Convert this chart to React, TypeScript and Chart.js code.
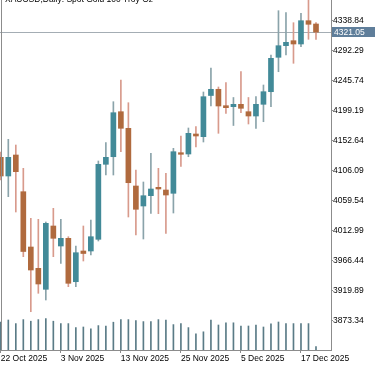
import React, { useEffect, useRef } from "react";
import { Chart, registerables } from "chart.js";
Chart.register(...registerables);

const title = "XAUUSD,Daily: Spot Gold 100 Troy Oz";

const dates = [
  "22 Oct 2025", "23 Oct 2025", "24 Oct 2025", "27 Oct 2025", "28 Oct 2025", "29 Oct 2025", "30 Oct 2025", "31 Oct 2025",
  "3 Nov 2025", "4 Nov 2025", "5 Nov 2025", "6 Nov 2025", "7 Nov 2025", "10 Nov 2025", "11 Nov 2025", "12 Nov 2025",
  "13 Nov 2025", "14 Nov 2025", "17 Nov 2025", "18 Nov 2025", "19 Nov 2025", "20 Nov 2025", "21 Nov 2025", "24 Nov 2025",
  "25 Nov 2025", "26 Nov 2025", "27 Nov 2025", "28 Nov 2025", "1 Dec 2025", "2 Dec 2025", "3 Dec 2025", "4 Dec 2025",
  "5 Dec 2025", "8 Dec 2025", "9 Dec 2025", "10 Dec 2025", "11 Dec 2025", "12 Dec 2025", "15 Dec 2025", "16 Dec 2025",
  "17 Dec 2025", "18 Dec 2025", "19 Dec 2025",
];

const opens = [
  4126.83, 4097.82, 4130.4, 4073.45, 3987.65, 3954.6, 3922.01, 4020.23, 3989.2, 4001.15, 3933.8,
  3981.44, 3981.44, 3999.59, 4115.97, 4127.76, 4197.59, 4171.83, 4082.3, 4051.27, 4067.25, 4080.28,
  4076.09, 4070.97, 4133.97, 4131.95, 4162.99, 4158.8, 4222.73, 4232.35, 4206.9, 4205.35, 4209.07,
  4197.59, 4190.91, 4209.07, 4228.62, 4282.0, 4300.0, 4307.76, 4302.64, 4338.79, 4333.67,
];
const closes = [
  4097.82, 4126.83, 4104.49, 3980.67, 3951.96, 3930.24, 4024.42, 4001.15, 4001.15, 3931.32, 3978.8,
  3977.56, 4003.63, 4115.97, 4126.83, 4196.04, 4171.83, 4087.42, 4046.15, 4067.25, 4077.64, 4077.64,
  4068.33, 4135.52, 4131.49, 4164.07, 4159.88, 4220.86, 4232.35, 4206.43, 4203.8, 4209.07, 4202.86,
  4190.91, 4209.07, 4228.62, 4280.45, 4300.0, 4305.27, 4302.64, 4338.79, 4333.2, 4321.05,
];
const highs = [
  4135.06, 4154.76, 4145.91, 4109.76, 4032.18, 4030.63, 4026.44, 4047.7, 4030.63, 4003.63, 3989.2,
  4020.23, 4029.54, 4121.09, 4149.49, 4213.11, 4246.78, 4211.55, 4107.13, 4088.51, 4133.04, 4109.76,
  4102.0, 4140.8, 4159.88, 4172.3, 4174.31, 4228.16, 4265.4, 4235.91, 4242.59, 4219.62, 4259.65,
  4219.62, 4221.17, 4239.02, 4285.57, 4354.31, 4351.2, 4335.69, 4350.27, 4375.56, 4335.69,
];
const lows = [
  4091.61, 4065.7, 4041.96, 3972.6, 3887.25, 3915.8, 3905.41, 3972.6, 3962.35, 3926.05, 3926.05,
  3965.92, 3975.23, 3996.96, 4099.37, 4099.37, 4135.52, 4034.2, 4006.27, 4000.06, 4039.94, 4039.32,
  4008.9, 4040.4, 4112.56, 4127.76, 4142.81, 4150.57, 4206.43, 4164.07, 4195.11, 4176.18, 4196.04,
  4178.5, 4171.83, 4182.07, 4205.35, 4259.65, 4285.57, 4272.69, 4298.45, 4309.93, 4309.93,
];
const volumes = [
  140000, 150000, 132000, 152000, 144000, 152000, 157000, 144000, 132000, 132000, 112000,
  115000, 106000, 122000, 119000, 139000, 152000, 152000, 147000, 142000, 142000, 152000,
  149000, 127000, 132000, 112000, 81000, 91000, 150000, 125000, 136000, 136000, 120000,
  120000, 124000, 115000, 131000, 140000, 132000, 132000, 132000, 132000, 17000,
];

const priceTicks = [4338.84, 4292.29, 4245.74, 4199.19, 4152.64, 4106.09, 4059.54, 4012.99, 3966.44, 3919.89, 3873.34];
const dateTickIdx = [0, 8, 16, 24, 32, 40];
const lastPrice = 4321.05;

const FONT = "'Liberation Sans', Arial, sans-serif";
const BULL = "#428a98";
const BEAR = "#b06a3e";
const BULL_WICK = "#8aa3aa";
const BEAR_WICK = "#d89a8c";
const VOL = "#5a7b86";
const AXIS = "#8c8c8c";

export default function App() {
  const ref = useRef<HTMLCanvasElement>(null);
  useEffect(() => {
    const canvas = ref.current;
    if (!canvas) return;
    const idx = dates.map((_, i) => i);
    const bull = idx.map((i) => closes[i] >= opens[i]);

    const decor = {
      id: "decor",
      beforeDatasetsDraw(chart: any) {
        const c = chart.ctx;
        const area = chart.chartArea;
        const y = Math.round(chart.scales.y.getPixelForValue(lastPrice)) + 0.5;
        c.save();
        c.strokeStyle = "#a4adb4";
        c.lineWidth = 1;
        c.beginPath();
        c.moveTo(0, y);
        c.lineTo(area.right, y);
        c.stroke();
        c.restore();
      },
      afterDraw(chart: any) {
        const c = chart.ctx;
        const area = chart.chartArea;
        const y = chart.scales.y.getPixelForValue(lastPrice);
        c.save();
        // left border
        c.strokeStyle = AXIS;
        c.lineWidth = 1;
        c.beginPath();
        c.moveTo(1.5, 0);
        c.lineTo(1.5, area.bottom);
        c.stroke();
        // price label
        c.fillStyle = "#5f7e9a";
        c.fillRect(area.right + 1, Math.round(y) - 5, 44, 10);
        c.fillStyle = "#ffffff";
        c.font = `8.5px ${FONT}`;
        c.textBaseline = "middle";
        c.textAlign = "left";
        c.fillText(lastPrice.toFixed(2), area.right + 3, Math.round(y) + 0.5);
        // title (cut off at top)
        c.fillStyle = "#000000";
        c.textBaseline = "alphabetic";
        c.fillText(title, 5, 2);
        c.restore();
      },
    };

    const chart = new Chart(canvas, {
      type: "bar",
      data: {
        datasets: [
          {
            label: "Body",
            data: idx.map((i) => ({ x: i, y: [opens[i], closes[i]] })) as any,
            backgroundColor: idx.map((i) => (bull[i] ? BULL : BEAR)),
            barThickness: 5,
            grouped: false,
            order: 1,
            yAxisID: "y",
          } as any,
          {
            label: "Wick",
            data: idx.map((i) => ({ x: i, y: [lows[i], highs[i]] })) as any,
            backgroundColor: idx.map((i) => (bull[i] ? BULL_WICK : BEAR_WICK)),
            barThickness: 1,
            grouped: false,
            order: 2,
            yAxisID: "y",
          } as any,
          {
            label: "Volume",
            data: idx.map((i) => ({ x: i, y: volumes[i] })) as any,
            backgroundColor: VOL,
            barThickness: 1,
            grouped: false,
            order: 3,
            yAxisID: "yv",
          } as any,
        ],
      },
      options: {
        animation: false,
        responsive: false,
        events: [],
        layout: { padding: 0 },
        plugins: {
          legend: { display: false },
          tooltip: { enabled: false },
          title: { display: false },
        },
        scales: {
          x: {
            type: "linear",
            position: "bottom",
            min: -0.107,
            max: 44.0,
            offset: false,
            afterBuildTicks: (s: any) => {
              s.ticks = dateTickIdx.map((v) => ({ value: v }));
            },
            afterFit: (s: any) => {
              s.height = 16;
              s.paddingLeft = 0;
              s.paddingRight = 0;
            },
            ticks: {
              callback: (v: any) => dates[Number(v)],
              align: "start",
              autoSkip: false,
              maxRotation: 0,
              minRotation: 0,
              padding: 1,
              color: "#000000",
              font: { family: FONT, size: 8.5 },
            },
            grid: { drawOnChartArea: false, offset: false, tickLength: 3, color: AXIS },
            border: { display: true, color: AXIS },
          } as any,
          y: {
            type: "linear",
            position: "right",
            min: 3827.83,
            max: 4370.91,
            afterBuildTicks: (s: any) => {
              s.ticks = priceTicks.map((v) => ({ value: v }));
            },
            afterFit: (s: any) => {
              s.width = 44;
              s.paddingTop = 0;
              s.paddingBottom = 0;
            },
            ticks: {
              callback: (v: any) => Number(v).toFixed(2),
              autoSkip: false,
              padding: 0,
              color: "#000000",
              font: { family: FONT, size: 8.5 },
            },
            grid: { drawOnChartArea: false, tickLength: 2, color: AXIS },
            border: { display: true, color: AXIS },
          } as any,
          yv: {
            type: "linear",
            display: false,
            min: 0,
            max: 1750000,
          },
        },
      },
      plugins: [decor],
    });
    return () => chart.destroy();
  }, []);

  return (
    <div style={{ position: "fixed", left: 0, top: 0, width: 375, height: 366, background: "#ffffff" }}>
      <canvas ref={ref} width={375} height={366} style={{ display: "block" }} />
    </div>
  );
}
